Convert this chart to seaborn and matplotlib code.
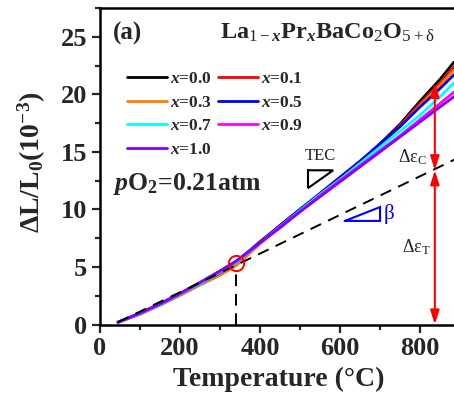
import matplotlib
matplotlib.use("Agg")
import matplotlib.pyplot as plt
from matplotlib.ticker import MultipleLocator
from matplotlib.lines import Line2D
import numpy as np
import pandas as pd
import seaborn as sns

# Temperatures (deg C) where the dilatometer curves are sampled
temperature = [45, 100, 150, 200, 250, 300, 340, 400, 450, 500, 550, 600,
               650, 700, 750, 800, 850, 885]

# Thermal expansion dL/L0 (x 10^-3) for La(1-x)Pr(x)BaCo2O(5+d)
strain_x00 = [0.2, 0.95, 1.75, 2.65, 3.55, 4.5, 5.4, 7.2, 8.6, 10.0, 11.3,
              12.7, 14.1, 15.7, 17.4, 19.4, 21.3, 22.8]
strain_x01 = [0.2, 0.9, 1.7, 2.55, 3.45, 4.3, 5.2, 7.1, 8.5, 9.9, 11.3, 12.7,
              14.1, 15.6, 17.3, 19.2, 21.0, 22.4]
strain_x03 = [0.2, 0.9, 1.7, 2.55, 3.45, 4.3, 5.1, 7.0, 8.5, 9.9, 11.3, 12.7,
              14.1, 15.6, 17.2, 19.0, 20.8, 22.1]
strain_x05 = [0.2, 0.95, 1.75, 2.65, 3.55, 4.5, 5.4, 7.1, 8.6, 10.0, 11.4,
              12.8, 14.2, 15.7, 17.2, 18.9, 20.5, 21.7]
strain_x07 = [0.2, 0.95, 1.75, 2.65, 3.55, 4.55, 5.4, 7.1, 8.5, 9.9, 11.3,
              12.6, 14.0, 15.4, 16.8, 18.2, 19.8, 21.0]
strain_x09 = [0.2, 1.0, 1.8, 2.7, 3.65, 4.65, 5.5, 7.1, 8.5, 9.8, 11.2, 12.5,
              13.8, 15.1, 16.4, 17.8, 19.2, 20.2]
strain_x10 = [0.2, 1.0, 1.8, 2.7, 3.65, 4.65, 5.5, 7.1, 8.4, 9.8, 11.1, 12.4,
              13.7, 15.0, 16.3, 17.6, 18.9, 19.8]

compositions = ["0.0", "0.1", "0.3", "0.5", "0.7", "0.9", "1.0"]
series = [strain_x00, strain_x01, strain_x03, strain_x05, strain_x07,
          strain_x09, strain_x10]
colors = ["#000000", "#ff0000", "#ff8000", "#0000ff", "#00ffff",
          "#ff00ff", "#8000ff"]

# Linear (lattice) expansion baseline fitted to the low-temperature part
baseline_T = [45, 900]
baseline_strain = [0.2, 14.56]
onset_T = 340          # onset of chemical expansion
onset_strain = 5.35
arrow_T = 837          # where the expansion components are marked
arrow_total = 21.0
arrow_lattice = 13.4

rows = []
for comp, vals in zip(compositions, series):
    for t, v in zip(temperature, vals):
        rows.append({"T": t, "strain": v, "x": comp})
df = pd.DataFrame(rows)

sns.set_theme(style="ticks")
plt.rcParams["font.family"] = ["Liberation Serif", "DejaVu Serif"]
plt.rcParams["mathtext.fontset"] = "custom"
plt.rcParams["mathtext.rm"] = "Liberation Serif"
plt.rcParams["mathtext.it"] = "Liberation Serif:italic:bold"
plt.rcParams["mathtext.bf"] = "Liberation Serif:bold"

fig = plt.figure(figsize=(4.54, 3.98), dpi=100)
ax = fig.add_axes([100 / 454, 73.5 / 398, 360 / 454, 316.5 / 398])

sns.lineplot(data=df, x="T", y="strain", hue="x", hue_order=compositions,
             palette=colors, estimator=None, sort=False, linewidth=2.0,
             legend=False, ax=ax)

# Baseline and onset marker
ax.plot(baseline_T, baseline_strain, color="black", lw=1.4,
        dashes=(6, 4), zorder=5)
ax.plot([onset_T, onset_T], [0, 4.8], color="black", lw=1.4,
        dashes=(6, 4), zorder=5)
ax.plot([onset_T], [onset_strain], marker="o", ms=11, mfc="none",
        mec="red", mew=1.4, zorder=6)

# Double-headed arrows for the total / chemical / thermal components
astyle = dict(arrowstyle="<|-|>,head_length=0.7,head_width=0.22",
              color="red", lw=1.5, shrinkA=0, shrinkB=0)
ax.annotate("", xy=(arrow_T, 0), xytext=(arrow_T, arrow_lattice),
            arrowprops=astyle, zorder=7)
ax.annotate("", xy=(arrow_T, arrow_lattice), xytext=(arrow_T, arrow_total),
            arrowprops=astyle, zorder=7)
ax.text(782, 14.5, "Δε$_\\mathrm{C}$", fontsize=13, ha="center", va="center")
ax.text(790, 6.7, "Δε$_\\mathrm{T}$", fontsize=13, ha="center", va="center")

# Slope triangles
ax.plot([520, 583, 520, 520], [13.4, 13.4, 11.85, 13.4], color="black",
        lw=1.5, solid_joinstyle="miter")
ax.text(551, 14.6, "TEC", fontsize=12, ha="center", va="center")
ax.plot([612, 700, 700, 612], [9.0, 10.2, 9.0, 9.0], color="#0000ff",
        lw=1.5, solid_joinstyle="miter")
ax.text(723, 9.6, "β", fontsize=15, color="#0000ff", ha="center",
        va="center")

# Annotations
ax.text(0.036, 0.921, "(a)", transform=ax.transAxes, fontsize=18,
        fontweight="bold", ha="left", va="center")
ax.text(0.333, 0.921,
        r"La$_{\mathrm{1-}x}$Pr$_{x}$BaCo$_{\mathrm{2}}$O$_{\mathrm{5+\delta}}$",
        transform=ax.transAxes, fontsize=17.5, fontweight="bold",
        ha="left", va="center")
ax.text(0.036, 0.445, r"$p$O$_\mathbf{2}$=0.21atm", transform=ax.transAxes,
        fontsize=18.5, fontweight="bold", ha="left", va="center")

# Legend laid out row by row in two columns
handles = {c: Line2D([], [], color=col, lw=2.0)
           for c, col in zip(compositions, colors)}
order = ["0.0", "0.3", "0.7", "1.0", "0.1", "0.5", "0.9"]
leg = ax.legend([handles[c] for c in order],
                [f"$x$=" + c for c in order],
                ncol=2, loc="upper left", bbox_to_anchor=(0.075, 0.80),
                frameon=False, borderpad=0, borderaxespad=0,
                handlelength=2.3, handletextpad=0.2, columnspacing=0.3,
                labelspacing=0.42, prop={"size": 12.5, "weight": "bold"})

ax.set_xlim(0, 900)
ax.set_ylim(0, 27.5)
ax.xaxis.set_major_locator(MultipleLocator(200))
ax.xaxis.set_minor_locator(MultipleLocator(100))
ax.yaxis.set_major_locator(MultipleLocator(5))
ax.yaxis.set_minor_locator(MultipleLocator(2.5))
ax.tick_params(which="major", direction="out", length=6, width=1.6,
               labelsize=19, pad=3, top=False, right=False)
ax.tick_params(which="minor", direction="out", length=3.5, width=1.6,
               top=False, right=False)
for lab in ax.get_xticklabels() + ax.get_yticklabels():
    lab.set_fontweight("bold")
for s in ax.spines.values():
    s.set_linewidth(1.8)
    s.set_color("black")

ax.set_xlabel("Temperature (°C)", fontsize=20, fontweight="bold")
ax.set_ylabel(r"ΔL/L$_\mathbf{0}$(10$^\mathbf{-3}$)", fontsize=20,
              fontweight="bold")
ax.xaxis.set_label_coords(0.497, -0.135)
ax.yaxis.set_label_coords(-0.145, 0.513)

fig.savefig("out.png", dpi=100)
